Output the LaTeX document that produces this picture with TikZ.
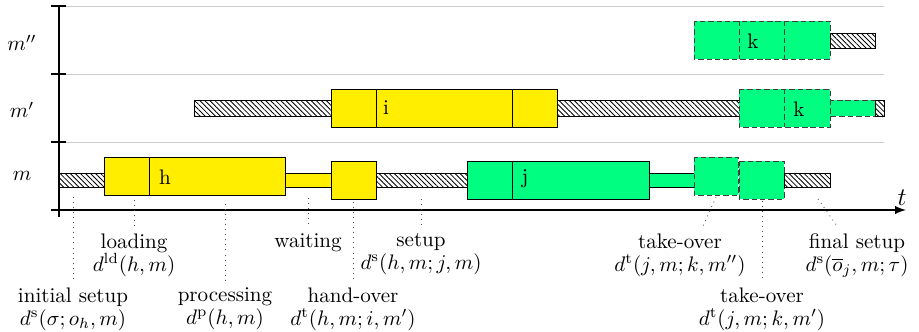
\documentclass[tikz,border=0pt]{standalone}
\usepackage{amssymb}
\usepackage{amsmath}
\usepackage{tikz}
\usetikzlibrary{patterns.meta}

\definecolor{opyellow}{RGB}{255,238,0}
\definecolor{opgreen}{RGB}{0,255,128}

\begin{document}
\begin{tikzpicture}[>=latex, x=0.475pt, y=-0.475pt,
	idle/.style={draw, pattern={Lines[angle=-45,distance=1.7pt,line width=0.4pt]}},
	yjob/.style={draw, fill=opyellow},
	gjob/.style={draw, fill=opgreen},
	dsh/.style={draw=black!75, dash pattern=on 2.6pt off 1.4pt},
	gdash/.style={dsh, fill=opgreen},
	lbl/.style={align=center, anchor=north},
	lead/.style={dotted, black!70}]
	\useasboundingbox (0,0) rectangle (919,331);
	
	%machine lines
	\foreach \y in {6,74,142} \draw[black!20] (66,\y)--(884,\y);
	
	%axes
	\draw[thick] (59,6)--(59,217);
	\foreach \y in {6,74,142} \draw[thick] (51,\y)--(66,\y);
	\draw[->,thick] (51,210)--(906,210);
	\node (tlab) at (902,198) {\large $t$};
	
	%machine labels
	\node (mA) at (22,176) {$m$};
	\node (mB) at (22,110) {$m'$};
	\node (mC) at (22,43)  {$m''$};
	
	%machine m
	\draw[idle] (59,173) rectangle (104,187);		%initial setup
	\draw[yjob] (104,157) rectangle (285,195);		%job h
	\draw (149,157)--(149,195);
	\node (jh) at (165,177) {h};
	\draw[yjob] (285,173) rectangle (331,187);		%waiting
	\draw[yjob] (331,161) rectangle (376,199);		%hand-over
	\draw[idle] (376,173) rectangle (467,187);		%setup
	\draw[gjob] (467,161) rectangle (649,199);		%job j
	\draw (512,161)--(512,199);
	\node (jj) at (525,179) {j};
	\draw[gjob] (649,173) rectangle (694,187);
	\draw[gdash] (694,157) rectangle (738,195);		%take-over m''
	\draw[gdash] (739,161) rectangle (784,199);		%take-over m'
	\draw[idle] (784,173) rectangle (830,187);		%final setup
	
	%machine m'
	\draw[idle] (194,100) rectangle (331,116);
	\draw[yjob] (331,89) rectangle (557,127);		%job i
	\draw (376,89)--(376,127) (512,89)--(512,127);
	\node (ji) at (386,108) {i};
	\draw[idle] (557,100) rectangle (739,116);
	\draw[gdash] (739,89) rectangle (830,127);		%job k
	\draw[dsh] (784,89)--(784,127);
	\node (jkB) at (799,109) {k};
	\draw[gdash] (830,100) rectangle (875,116);
	\draw[idle] (875,100) rectangle (884,116);
	
	%machine m''
	\draw[gdash] (694,21) rectangle (830,59);		%job k
	\draw[dsh] (739,21)--(739,59) (784,21)--(784,59);
	\node (jkC) at (753,41) {k};
	\draw[idle] (830,33) rectangle (875,48);
	
	%labels
	\node[lbl] (initset) at (73,280)  {initial setup\\[-1pt]$d^{\mathrm{s}}(\sigma;o_h,m)$};
	\node[lbl] (loading) at (134,226) {loading\\[-1pt]$d^{\mathrm{ld}}(h,m)$};
	\node[lbl] (process) at (225,280) {processing\\[-1pt]$d^{\mathrm{p}}(h,m)$};
	\node[lbl] (waiting) at (308,226) {waiting};
	\node[lbl] (handover) at (353,280) {hand-over\\[-1pt]$d^{\mathrm{t}}(h,m;i,m')$};
	\node[lbl] (setup) at (421,226)   {setup\\[-1pt]$d^{\mathrm{s}}(h,m;j,m)$};
	\node[lbl] (takeC) at (680,226)   {take-over\\[-1pt]$d^{\mathrm{t}}(j,m;k,m'')$};
	\node[lbl] (takeB) at (762,280)   {take-over\\[-1pt]$d^{\mathrm{t}}(j,m;k,m')$};
	\node[lbl] (finset) at (857,226)  {final setup\\[-1pt]$d^{\mathrm{s}}(\overline{o}_j,m;\tau)$};
	
	%leader lines
	\coordinate (pIS) at (73,197);
	\coordinate (pLD) at (134,200);
	\coordinate (pPR) at (225,204);
	\coordinate (pWT) at (308,198);
	\coordinate (pHO) at (353,202);
	\coordinate (pSU) at (421,199);
	\coordinate (pTC) at (716,197);
	\coordinate (pTB) at (762,201);
	\coordinate (pFS) at (818,199);
	\draw[lead] (pIS)--(initset.north);
	\draw[lead] (pLD)--(loading.north);
	\draw[lead] (pPR)--(process.north);
	\draw[lead] (pWT)--(waiting.north);
	\draw[lead] (pHO)--(handover.north);
	\draw[lead] (pSU)--(setup.north);
	\draw[lead] (pTC)--([xshift=11pt]takeC.north);
	\draw[lead] (pTB)--(takeB.north);
	\draw[lead] (pFS)--([xshift=-9.5pt]finset.north);
\end{tikzpicture}
\end{document}
